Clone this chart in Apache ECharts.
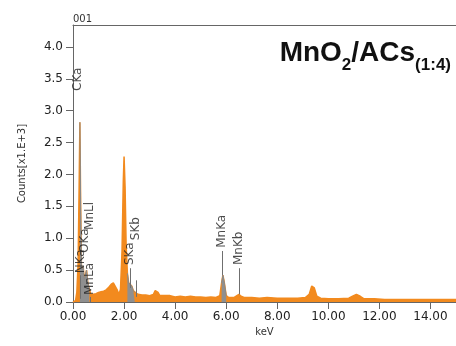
<!DOCTYPE html>
<html>
<head>
<meta charset="utf-8">
<script src="https://cdn.jsdelivr.net/npm/echarts@6/dist/echarts.min.js"></script>
<style>
  html, body { margin: 0; padding: 0; background: #fff; }
  #chart { width: 456px; height: 346px; }
</style>
</head>
<body>
<div id="chart"></div>
<script>
// EDS spectrum, energy in keV, counts in x1000
const energy = [0.00, 0.10, 0.15, 0.20, 0.24, 0.27, 0.30, 0.33, 0.37, 0.40, 0.44, 0.50, 0.53, 0.58, 0.64, 0.70,
  0.80, 0.90, 1.00, 1.10, 1.20, 1.30, 1.40, 1.50, 1.58, 1.65, 1.72, 1.80, 1.86, 1.92, 1.97, 2.00, 2.04, 2.08,
  2.13, 2.18, 2.24, 2.30, 2.36, 2.42, 2.47, 2.55, 2.70, 2.85, 3.00, 3.15, 3.22, 3.27, 3.33, 3.40, 3.60, 3.80,
  4.00, 4.20, 4.40, 4.60, 4.80, 5.00, 5.20, 5.40, 5.60, 5.75, 5.82, 5.87, 5.92, 6.00, 6.10, 6.30, 6.42, 6.50,
  6.58, 6.70, 7.00, 7.30, 7.60, 8.00, 8.40, 8.80, 9.10, 9.25, 9.35, 9.45, 9.55, 9.70, 10.00, 10.40, 10.80,
  10.95, 11.10, 11.25, 11.40, 11.80, 12.20, 12.60, 13.00, 13.50, 14.00, 14.50, 15.00];
const counts = [0.00, 0.02, 0.15, 0.60, 1.80, 2.82, 1.50, 0.55, 0.50, 0.55, 0.35, 0.45, 0.50, 0.30, 0.20, 0.12,
  0.12, 0.13, 0.15, 0.16, 0.17, 0.19, 0.23, 0.28, 0.30, 0.27, 0.20, 0.12, 0.20, 0.80, 1.90, 2.28, 1.80, 0.90,
  0.45, 0.30, 0.27, 0.25, 0.18, 0.15, 0.14, 0.12, 0.11, 0.11, 0.10, 0.12, 0.18, 0.21, 0.15, 0.10, 0.10, 0.10,
  0.08, 0.09, 0.08, 0.09, 0.08, 0.08, 0.07, 0.08, 0.07, 0.10, 0.30, 0.42, 0.32, 0.10, 0.07, 0.07, 0.10, 0.12,
  0.09, 0.07, 0.07, 0.06, 0.07, 0.06, 0.06, 0.06, 0.07, 0.12, 0.25, 0.22, 0.09, 0.06, 0.05, 0.05, 0.06,
  0.09, 0.12, 0.09, 0.05, 0.05, 0.04, 0.04, 0.04, 0.04, 0.04, 0.04, 0.04];

// regions of interest shaded grey [from, to] keV
const roiWindows = [[0.255, 0.68], [2.12, 2.43], [5.76, 6.02]];

// identified lines: name, energy of label, label start height, marker line from/to
const lineNames = ['CKa', 'NKa', 'OKa', 'MnLl', 'MnLa', 'SKa', 'SKb', 'MnKa', 'MnKb'];
const lineKeV = [0.195, 0.29, 0.45, 0.66, 0.68, 2.24, 2.46, 5.85, 6.51];
const labelFrom = [3.31, 0.45, 0.77, 1.13, 0.11, 0.58, 0.97, 0.85, 0.58];
const markFrom = [null, 0.05, null, null, 0.0, 0.22, 0.08, 0.42, 0.12];
const markTo = [null, 0.42, null, null, 0.08, 0.53, 0.34, 0.80, 0.53];

const yTicks = [0, 0.5, 1, 1.5, 2, 2.5, 3, 3.5, 4];

const spectrum = energy.map((e, i) => [e, counts[i]]);
const roi = energy.map((e, i) => {
  const inside = roiWindows.some(w => e >= w[0] && e <= w[1]);
  return inside ? [e, counts[i]] : [e, null];
});
const labelPts = lineNames.map((n, i) => ({ name: n, value: [lineKeV[i], labelFrom[i]] }));
const markData = [];
lineNames.forEach((n, i) => {
  if (markFrom[i] === null) return;
  markData.push([{ coord: [lineKeV[i], markFrom[i]] }, { coord: [lineKeV[i], markTo[i]] }]);
});

const chart = echarts.init(document.getElementById('chart'));
const font = 'DejaVu Sans';
chart.setOption({
  animation: false,
  title: {
    text: '{b|MnO}{s|2}{b|/ACs}{s|(1:4)}',
    right: 0,
    top: 32,
    textStyle: {
      rich: {
        b: { fontFamily: 'Liberation Sans', fontWeight: 'bold', fontSize: 28, color: '#111', lineHeight: 30, verticalAlign: 'bottom' },
        s: { fontFamily: 'Liberation Sans', fontWeight: 'bold', fontSize: 17, color: '#111', lineHeight: 17, verticalAlign: 'bottom', padding: [0, 0, -7, 0] }
      }
    }
  },
  graphic: [{
    type: 'text', left: 73, top: 14,
    style: { text: '001', font: '10px "DejaVu Sans"', fill: '#333' }
  }],
  grid: { left: 73, right: -2, top: 25, bottom: 44 },
  xAxis: [{
    type: 'value', min: 0, max: 15, interval: 2,
    name: 'keV', nameLocation: 'middle', nameGap: 23,
    nameTextStyle: { fontFamily: font, fontSize: 10, color: '#333' },
    axisLine: { lineStyle: { color: '#666' } },
    axisTick: { length: 7, lineStyle: { color: '#666' } },
    splitLine: { show: false },
    axisLabel: { fontFamily: font, fontSize: 12, color: '#222', margin: 9, formatter: v => v.toFixed(2), showMaxLabel: false }
  }, {
    type: 'value', min: 0, max: 15, position: 'top',
    axisLine: { show: true, lineStyle: { color: '#666' } },
    axisTick: { show: false }, axisLabel: { show: false }, splitLine: { show: false }
  }],
  yAxis: {
    type: 'value', min: 0, max: 4.345, interval: 0.5,
    name: 'Counts[x1.E+3]', nameLocation: 'middle', nameGap: 46,
    nameTextStyle: { fontFamily: font, fontSize: 10, color: '#333' },
    axisLine: { show: true, lineStyle: { color: '#666' } },
    axisTick: { show: true, length: 7, lineStyle: { color: '#666' },
      customValues: yTicks },
    splitLine: { show: false },
    axisLabel: { fontFamily: font, fontSize: 12, color: '#222', margin: 10,
      customValues: yTicks, formatter: v => v.toFixed(1) }
  },
  series: [{
    name: 'spectrum', type: 'line', data: spectrum, symbol: 'none', z: 2,
    lineStyle: { color: '#f28a1e', width: 1.5 },
    areaStyle: { color: '#f28a1e', opacity: 1 }
  }, {
    name: 'roi', type: 'line', data: roi, symbol: 'none', connectNulls: false, z: 3,
    lineStyle: { color: '#8a8a8a', width: 1 },
    areaStyle: { color: '#8f8f8f', opacity: 1 }
  }, {
    name: 'lines', type: 'scatter', data: labelPts, symbolSize: 1, z: 5,
    itemStyle: { color: 'rgba(0,0,0,0)' },
    labelLayout: { hideOverlap: false },
    label: {
      show: true, formatter: p => p.name, rotate: 90, position: 'inside',
      align: 'left', verticalAlign: 'middle',
      fontFamily: font, fontSize: 12, color: '#1e1e1e'
    },
    markLine: {
      silent: true, symbol: ['none', 'none'], animation: false,
      label: { show: false },
      lineStyle: { color: '#6f6f6f', type: 'solid', width: 1 },
      data: markData
    }
  }]
});
</script>
</body>
</html>
